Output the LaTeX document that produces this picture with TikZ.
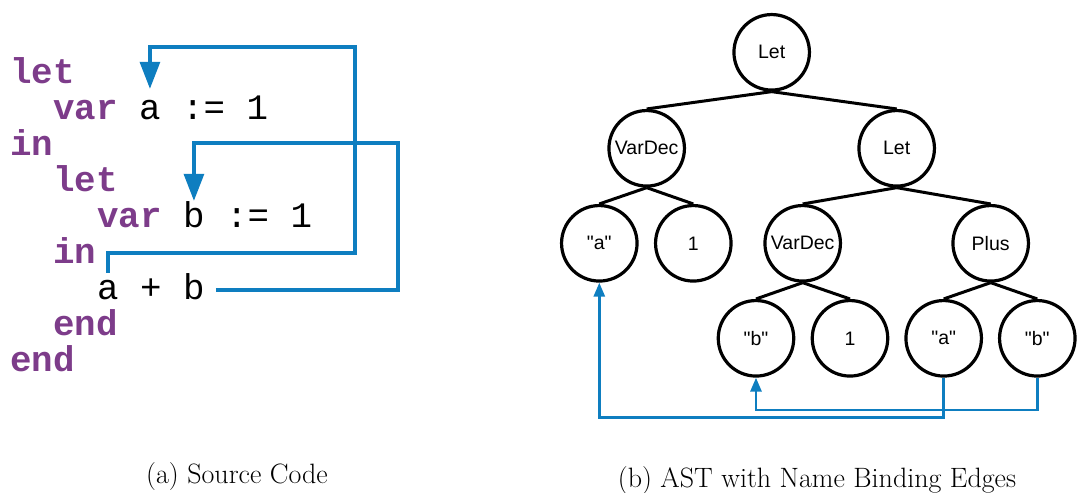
\documentclass[tikz,border=0pt]{standalone}
\usepackage{fontspec}
\usetikzlibrary{arrows.meta}
\newfontfamily\codefont{Liberation Mono}
\newfontfamily\treefont{Liberation Sans}
\definecolor{kwpurple}{RGB}{125,60,138}
\definecolor{bindblue}{RGB}{14,126,192}
\begin{document}
\begin{tikzpicture}[x=1pt,y=-1pt,
  code/.style={anchor=base west, inner sep=0pt, text height=26pt, text depth=0pt,
    font=\codefont\fontsize{35.8}{36}\selectfont},
  kw/.style={code, text=kwpurple, font=\codefont\bfseries\fontsize{35.8}{36}\selectfont},
  ast/.style={circle, draw, line width=3.2pt, minimum size=75.5pt, inner sep=0pt,
    font=\treefont\fontsize{19.5}{21}\selectfont},
  treeedge/.style={line width=3pt},
  codebind/.style={draw=bindblue, line width=3.2pt, line join=miter,
    -{Triangle[width=20pt,length=27pt]}},
  treebind/.style={draw=bindblue, line width=2.8pt, line join=miter,
    -{Triangle[width=11pt,length=14pt]}},
  caption/.style={anchor=base, inner sep=0pt, font=\fontsize{28}{32}\selectfont}]
\useasboundingbox (0,0) rectangle (1080,493);

% ---------- source program ----------
\node[kw] (l1) at (10,83) {let};
\node[kw] (l2v) at (53,119) {var};
\node[code] (defa) at (139,119) {a};
\node[code] (l2r) at (182,119) {:= 1};
\node[kw] (l3) at (10,155) {in};
\node[kw] (l4) at (53,191) {let};
\node[kw] (l5v) at (97,227) {var};
\node[code] (defb) at (183,227) {b};
\node[code] (l5r) at (226,227) {:= 1};
\node[kw] (l6) at (53,263) {in};
\node[code] (usea) at (97,299) {a};
\node[code] (plus) at (140,299) {+};
\node[code] (useb) at (183,299) {b};
\node[kw] (l8) at (53,335) {end};
\node[kw] (l9) at (10,371) {end};

% bindings from uses to declarations
\coordinate (ka) at (355,253);
\coordinate (kat) at (355,47);
\coordinate (kb) at (398,143);
\draw[codebind] (usea.north) |- (ka) -- (kat) -| ([yshift=4pt]defa.north);
\draw[codebind] ([xshift=11pt,yshift=-4pt]useb.east) -| (kb) -| (defb.north);

% ---------- abstract syntax tree ----------
\node[ast] (root) at (771.7,52.3) {Let};
\node[ast] (vd1) at (646.7,148.3) {VarDec};
\node[ast] (let2) at (896.7,148.3) {Let};
\node[ast] (na) at (599.3,243.3) {"a"};
\node[ast] (one1) at (693.3,243.3) {1};
\node[ast] (vd2) at (802.7,243.3) {VarDec};
\node[ast] (plusn) at (990.7,243.3) {Plus};
\node[ast] (nb) at (756,338.3) {"b"};
\node[ast] (one2) at (850,338.3) {1};
\node[ast] (ra) at (943.7,338.3) {"a"};
\node[ast] (rb) at (1037.3,338.3) {"b"};

\foreach \p/\c in {root/vd1, root/let2, vd1/na, vd1/one1, let2/vd2, let2/plusn,
                   vd2/nb, vd2/one2, plusn/ra, plusn/rb}
  \draw[treeedge] (\p.south) -- (\c.north);

% name binding edges
\coordinate (ya) at (0,417.7);
\coordinate (yb) at (0,410);
\draw[treebind] (rb.south) -- (rb.south |- yb) -| (nb.south);
\draw[treebind] (ra.south) -- (ra.south |- ya) -| (na.south);

% ---------- captions ----------
\node[caption] (capa) at (237,483) {(a) Source Code};
\node[caption] (capb) at (817,487) {(b) AST with Name Binding Edges};
\end{tikzpicture}
\end{document}
